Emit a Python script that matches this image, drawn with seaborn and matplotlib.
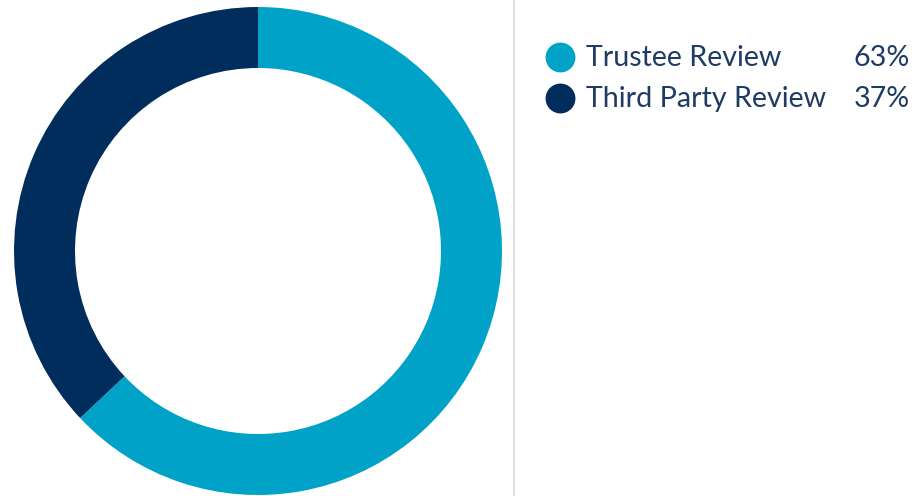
import matplotlib
matplotlib.use("Agg")
import matplotlib.pyplot as plt
import seaborn as sns

categories = ["Trustee Review", "Third Party Review"]
shares = [63, 37]
colors = ["#00A3C7", "#002D5B"]
text_color = "#1F3B63"

sns.set_theme(style="white")
plt.rcParams["font.family"] = ["Lato", "DejaVu Sans"]

W, H = 918, 496
fig = plt.figure(figsize=(W / 100, H / 100), dpi=100)
fig.patch.set_facecolor("white")

# Donut ring
cx, cy, r = 258, 251, 244
ax = fig.add_axes([(cx - r) / W, (H - cy - r) / H, 2 * r / W, 2 * r / H])
ax.pie(shares, colors=colors, startangle=90, counterclock=False, radius=1.0,
       wedgeprops=dict(width=0.25, edgecolor="none", linewidth=0))
ax.set_xlim(-1, 1)
ax.set_ylim(-1, 1)
ax.set_aspect("equal")
ax.axis("off")

# Divider between chart and legend
fig.add_artist(plt.Line2D([514 / W, 514 / W], [0, 1], color="#D9D9D9", lw=1.2,
                          transform=fig.transFigure))

# Legend with values
ys = [56.5, 97.5]
for name, val, col, y in zip(categories, shares, colors, ys):
    fig.add_artist(plt.Line2D([559.5 / W], [(H - y) / H], marker="o", markersize=21.5,
                              markerfacecolor=col, markeredgecolor="none",
                              transform=fig.transFigure))
    fig.text(586 / W, (H - y - 9.5) / H, name, fontsize=20.6, color=text_color,
             ha="left", va="baseline")
    fig.text(910 / W, (H - y - 9.5) / H, f"{val}%", fontsize=20.6, color=text_color,
             ha="right", va="baseline")

fig.savefig("out.png", dpi=100, facecolor="white")
